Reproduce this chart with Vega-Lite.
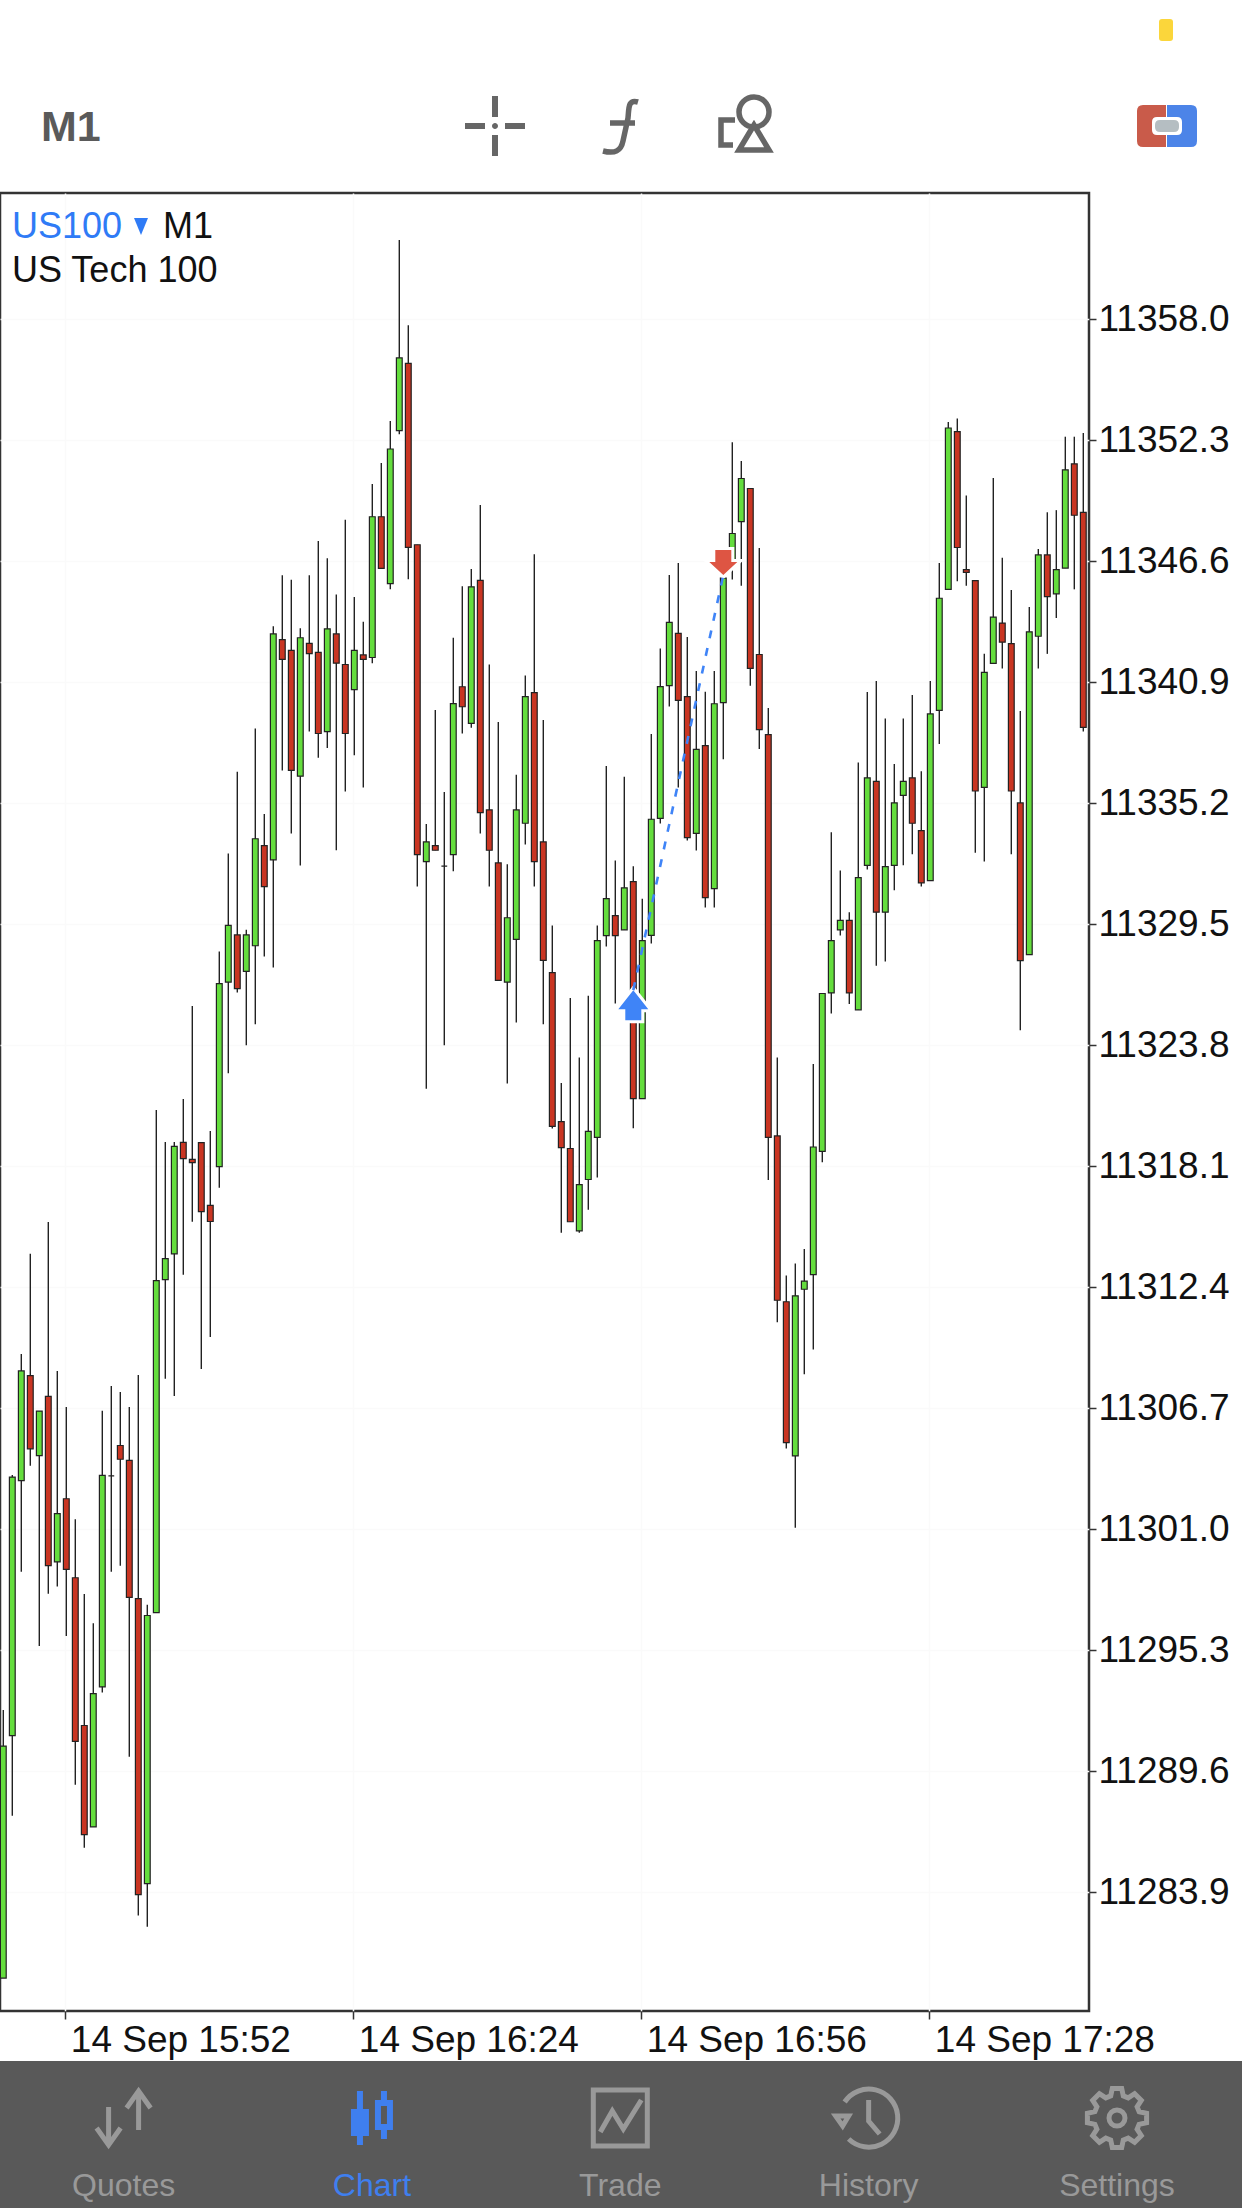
{
  "$schema": "https://vega.github.io/schema/vega-lite/v6.json",
  "padding": {"left": -2, "top": 0, "right": 0, "bottom": 0},
  "background": "#ffffff",
  "config": {"view": {"stroke": null}, "font": "Liberation Sans"},
  "spacing": 50,
  "bounds": "flush",
  "resolve": {"scale": {"shape": "independent", "fill": "independent", "color": "independent"}},
  "vconcat": [
    {
      "width": 1242,
      "height": 143,
      "resolve": {"scale": {"shape": "independent", "fill": "independent"}},
      "data": {"values": [
        {"slot": "M1", "icon": "label", "style": "text", "label": "M1"},
        {"slot": "crosshair", "icon": "crosshair", "style": "fill"},
        {"slot": "function", "icon": "function", "style": "stroke"},
        {"slot": "objects", "icon": "objects", "style": "stroke"},
        {"slot": "toggle", "icon": "toggle-left", "style": "fill"},
        {"slot": "toggle", "icon": "toggle-right", "style": "fill"},
        {"slot": "toggle", "icon": "toggle-knob", "style": "fill"},
        {"slot": "toggle", "icon": "toggle-dot", "style": "fill"},
        {"slot": "toggle", "icon": "battery", "style": "fill"}
      ]},
      "encoding": {
        "x": {"field": "slot", "type": "nominal", "axis": null, "scale": {"type": "point", "padding": 0, "range": [120, 1120], "domain": ["M1", "gap1", "gap2", "crosshair", "function", "objects", "gap3", "gap4", "toggle"]}},
        "y": {"datum": "toolbar", "axis": null, "scale": {"type": "point", "padding": 0, "range": [126, 143], "domain": ["toolbar", "edge"]}}
      },
      "layer": [
        {
          "transform": [{"filter": "datum.style === 'fill'"}],
          "mark": {"type": "point", "filled": true, "size": 4, "opacity": 1, "strokeWidth": 0},
          "encoding": {
            "shape": {"field": "icon", "type": "nominal", "legend": null, "scale": {
              "domain": ["crosshair", "toggle-left", "toggle-right", "toggle-knob", "toggle-dot", "battery"],
              "range": [
                "M-30,-3H-10V3H-30Z M10,-3H30V3H10Z M-3,-30H3V-9H-3Z M-3,9H3V30H-3Z M-3,0A3,3 0 1 0 3,0A3,3 0 1 0 -3,0Z",
                "M46,-21H23Q17,-21 17,-15V15Q17,21 23,21H46Z",
                "M47,-21H71Q77,-21 77,-15V15Q77,21 71,21H47Z",
                "M37,-9H57Q62,-9 62,-4V4Q62,9 57,9H37Q32,9 32,4V-4Q32,-9 37,-9Z",
                "M40,-6H54Q59,-6 59,-1V1Q59,6 54,6H40Q35,6 35,1V-1Q35,-6 40,-6Z",
                "M42,-107H50Q53,-107 53,-104V-88Q53,-85 50,-85H42Q39,-85 39,-88V-104Q39,-107 42,-107Z"
              ]}},
            "fill": {"field": "icon", "type": "nominal", "legend": null, "scale": {
              "domain": ["crosshair", "toggle-left", "toggle-right", "toggle-knob", "toggle-dot", "battery"],
              "range": ["#666666", "#C95B4A", "#4C84E8", "#ffffff", "#B5BEC2", "#FBD63B"]}}
          }
        },
        {
          "transform": [{"filter": "datum.style === 'stroke'"}],
          "mark": {"type": "point", "filled": false, "size": 4, "opacity": 1, "stroke": "#666666", "strokeWidth": 5.5},
          "encoding": {
            "shape": {"field": "icon", "type": "nominal", "legend": null, "scale": {
              "domain": ["function", "objects"],
              "range": [
                "M18,-24C8,-27 9,-18 8,-8L3,15C1,25 -5,28 -17,25 M-10,-3H15",
                "M-6,-14A15,15 0 1 1 24,-14A15,15 0 1 1 -6,-14Z M9,-1L-6,24H24Z M-10,-6H-24V19H-12"
              ]}}
          }
        },
        {
          "transform": [{"filter": "datum.style === 'text'"}],
          "mark": {"type": "text", "align": "left", "baseline": "alphabetic", "dx": -79, "dy": 15, "font": "Liberation Sans", "fontSize": 43, "fontWeight": "bold", "color": "#5a5a5a"},
          "encoding": {"text": {"field": "label"}}
        }
      ]
    },
    {
      "width": 1089,
      "height": 1818,
      "view": {"stroke": "#333333", "strokeWidth": 2.5, "fill": "#ffffff"},
      "resolve": {"scale": {"x": "independent", "y": "independent"}},
      "layer": [
        {
          "encoding": {
            "x": {"field": "t", "type": "temporal", "scale": {"type": "utc", "nice": false, "padding": 0, "domain": ["2022-09-14T15:44:38Z", "2022-09-14T17:45:38Z"]},
              "axis": {"title": null, "orient": "bottom", "values": ["2022-09-14T15:52:00Z", "2022-09-14T16:24:00Z", "2022-09-14T16:56:00Z", "2022-09-14T17:28:00Z"], "format": "%d %b %H:%M", "labelAlign": "left", "labelBaseline": "top", "labelOffset": 5, "labelPadding": 3, "labelLimit": 400, "labelFont": "Liberation Sans", "labelFontSize": 37, "labelColor": "#111111", "labelFlush": false, "labelOverlap": false, "tickColor": "#333333", "tickSize": 8, "tickWidth": 1.5, "tickOffset": -1, "domain": false, "grid": true, "gridColor": "#fafafa", "gridWidth": 1.5}}
          },
          "layer": [
            {
              "data": {"name": "candles"},
              "mark": {"type": "rule", "stroke": "#222222", "strokeWidth": 1.4, "clip": true},
              "encoding": {
                "y": {"field": "l", "type": "quantitative", "scale": {"domain": [11278.31, 11363.95], "nice": false, "zero": false},
                  "axis": {"title": null, "orient": "right", "values": [11283.9, 11289.6, 11295.3, 11301.0, 11306.7, 11312.4, 11318.1, 11323.8, 11329.5, 11335.2, 11340.9, 11346.6, 11352.3, 11358.0], "format": ".1f", "labelFont": "Liberation Sans", "labelFontSize": 37, "labelColor": "#111111", "labelPadding": 2, "labelFlush": false, "labelOverlap": false, "tickColor": "#333333", "tickSize": 7, "tickWidth": 1.5, "domain": false, "grid": true, "gridColor": "#fafafa", "gridWidth": 1.5}},
                "y2": {"field": "h"}
              }
            },
            {
              "data": {"name": "candles"},
              "mark": {"type": "bar", "size": 5.8, "stroke": "#222222", "strokeWidth": 1.2, "clip": true},
              "encoding": {
                "y": {"field": "o", "type": "quantitative"},
                "y2": {"field": "c"},
                "fill": {"condition": {"test": "datum.c >= datum.o", "value": "#64DD3D"}, "value": "#C93522"}
              }
            },
            {
              "data": {"name": "trades"},
              "mark": {"type": "point", "filled": true, "size": 4, "opacity": 1, "fill": "#ffffff", "stroke": "#ffffff", "strokeWidth": 6},
              "encoding": {
                "y": {"field": "price", "type": "quantitative"},
                "shape": {"field": "side", "type": "nominal", "legend": null, "scale": {"domain": ["buy", "sell"], "range": [
                  "M0,0L15,19H8V30H-8V19H-15Z",
                  "M-8,-25H8V-13H14L0,0L-14,-13H-8Z"
                ]}}
              }
            },
            {
              "data": {"name": "trades"},
              "mark": {"type": "line", "stroke": "#3F84F7", "strokeWidth": 2.6, "strokeDash": [8, 10]},
              "encoding": {"y": {"field": "price", "type": "quantitative"}}
            },
            {
              "data": {"name": "trades"},
              "mark": {"type": "point", "filled": true, "size": 4, "opacity": 1, "strokeWidth": 0},
              "encoding": {
                "y": {"field": "price", "type": "quantitative"},
                "shape": {"field": "side", "type": "nominal", "legend": null, "scale": {"domain": ["buy", "sell"], "range": [
                  "M0,0L15,19H8V30H-8V19H-15Z",
                  "M-8,-25H8V-13H14L0,0L-14,-13H-8Z"
                ]}},
                "fill": {"field": "side", "type": "nominal", "legend": null, "scale": {"domain": ["buy", "sell"], "range": ["#3F84F7", "#DE5543"]}}
              }
            }
          ]
        },
        {
          "encoding": {
            "x": {"field": "col", "type": "nominal", "axis": null, "scale": {"type": "point", "padding": 0, "range": [12, 163], "domain": ["a", "b"]}},
            "y": {"field": "line", "type": "nominal", "axis": null, "scale": {"type": "point", "padding": 0, "range": [45, 89], "domain": ["top", "bottom"]}}
          },
          "layer": [
            {
              "data": {"values": [
                {"label": "US100", "col": "a", "line": "top"},
                {"label": "M1", "col": "b", "line": "top"},
                {"label": "US Tech 100", "col": "a", "line": "bottom"}
              ]},
              "mark": {"type": "text", "align": "left", "baseline": "alphabetic", "font": "Liberation Sans", "fontSize": 36},
              "encoding": {
                "text": {"field": "label"},
                "color": {"field": "label", "type": "nominal", "legend": null, "scale": {"domain": ["US100", "M1", "US Tech 100"], "range": ["#2F7BF6", "#111111", "#111111"]}}
              }
            },
            {
              "data": {"values": [{"col": "b", "line": "top"}]},
              "mark": {"type": "point", "filled": true, "size": 4, "opacity": 1, "fill": "#2F7BF6", "strokeWidth": 0, "shape": "M-29,-20H-15L-22,-3Z"}
            }
          ]
        }
      ]
    },
    {
      "width": 1242,
      "height": 147,
      "view": {"fill": "#595959", "stroke": null},
      "data": {"values": [
        {"tab": "Quotes", "style": "stroke"},
        {"tab": "Chart", "style": "fill"},
        {"tab": "Trade", "style": "stroke"},
        {"tab": "History", "style": "stroke"},
        {"tab": "Settings", "style": "stroke"}
      ]},
      "encoding": {
        "x": {"field": "tab", "type": "nominal", "axis": null, "sort": null, "scale": {"type": "point", "padding": 0, "range": [123.6, 1117], "domain": ["Quotes", "Chart", "Trade", "History", "Settings"]}}
      },
      "layer": [
        {
          "transform": [{"filter": "datum.style === 'stroke'"}],
          "mark": {"type": "point", "filled": false, "size": 4, "opacity": 1, "stroke": "#999999", "strokeWidth": 5},
          "encoding": {
            "y": {"datum": "icon", "axis": null, "scale": {"type": "point", "padding": 0, "range": [57, 135], "domain": ["icon", "label"]}},
            "shape": {"field": "tab", "type": "nominal", "legend": null, "scale": {
              "domain": ["Quotes", "Trade", "History", "Settings"],
              "range": [
                "M15,12V-25 M3,-10L15,-27L27,-10 M-15,-11V25 M-27,10L-15,27L-3,10",
                "M-27,-28H27V28H-27Z M-20,14L-8,-7L3,11L21,-18",
                "M-24,-16A29,29 0 1 1 -20,21 M0,-18V3L11,16 M-33,-2H-20L-26,8Z",
                "M22.1,-6.3L29.6,-4.7L29.6,4.7L22.1,6.3L20.1,11.2L24.3,17.6L17.6,24.3L11.2,20.1L6.3,22.1L4.7,29.6L-4.7,29.6L-6.3,22.1L-11.2,20.1L-17.6,24.3L-24.3,17.6L-20.1,11.2L-22.1,6.3L-29.6,4.7L-29.6,-4.7L-22.1,-6.3L-20.1,-11.2L-24.3,-17.6L-17.6,-24.3L-11.2,-20.1L-6.3,-22.1L-4.7,-29.6L4.7,-29.6L6.3,-22.1L11.2,-20.1L17.6,-24.3L24.3,-17.6L20.1,-11.2Z M-8,0A8,8 0 1 0 8,0A8,8 0 1 0 -8,0Z"
              ]}}
          }
        },
        {
          "transform": [{"filter": "datum.style === 'fill'"}],
          "mark": {"type": "point", "filled": true, "size": 4, "opacity": 1, "fill": "#3F7FEF", "strokeWidth": 0, "shape": "M-15,-27H-9V-9H-3V18H-9V27H-15V18H-21V-9H-15Z M9,-27H15V-18H21V12H15V21H9V12H3V-18H9Z M9,-12V6H15V-12Z"},
          "encoding": {
            "y": {"datum": "icon", "axis": null, "scale": {"type": "point", "padding": 0, "range": [57, 135], "domain": ["icon", "label"]}}
          }
        },
        {
          "mark": {"type": "text", "baseline": "alphabetic", "align": "center", "font": "Liberation Sans", "fontSize": 32},
          "encoding": {
            "y": {"datum": "label", "axis": null, "scale": {"type": "point", "padding": 0, "range": [57, 135], "domain": ["icon", "label"]}},
            "text": {"field": "tab"},
            "color": {"condition": {"test": "datum.tab === 'Chart'", "value": "#3F7FEF"}, "value": "#999999"}
          }
        }
      ]
    }
  ],
  "datasets": {
    "trades": [
      {"t": "2022-09-14T16:55:00Z", "price": 11326.40, "side": "buy"},
      {"t": "2022-09-14T17:05:00Z", "price": 11345.95, "side": "sell"}
    ],
    "candles": [
      {"t":"2022-09-14T15:45:00Z","o":11279.86,"h":11292.49,"l":11279.86,"c":11290.79},
      {"t":"2022-09-14T15:46:00Z","o":11291.28,"h":11303.56,"l":11287.51,"c":11303.46},
      {"t":"2022-09-14T15:47:00Z","o":11303.29,"h":11309.26,"l":11299.00,"c":11308.46},
      {"t":"2022-09-14T15:48:00Z","o":11308.24,"h":11313.98,"l":11304.00,"c":11304.79},
      {"t":"2022-09-14T15:49:00Z","o":11304.47,"h":11306.57,"l":11295.50,"c":11306.57},
      {"t":"2022-09-14T15:50:00Z","o":11307.26,"h":11315.48,"l":11297.97,"c":11299.29},
      {"t":"2022-09-14T15:51:00Z","o":11299.47,"h":11308.46,"l":11298.31,"c":11301.74},
      {"t":"2022-09-14T15:52:00Z","o":11302.44,"h":11306.76,"l":11295.98,"c":11299.11},
      {"t":"2022-09-14T15:53:00Z","o":11298.72,"h":11301.48,"l":11288.97,"c":11291.01},
      {"t":"2022-09-14T15:54:00Z","o":11291.76,"h":11297.95,"l":11286.00,"c":11286.62},
      {"t":"2022-09-14T15:55:00Z","o":11286.98,"h":11296.58,"l":11286.98,"c":11293.26},
      {"t":"2022-09-14T15:56:00Z","o":11293.58,"h":11306.58,"l":11293.31,"c":11303.54},
      {"t":"2022-09-14T15:57:00Z","o":11303.52,"h":11307.75,"l":11299.00,"c":11303.52},
      {"t":"2022-09-14T15:58:00Z","o":11304.95,"h":11307.47,"l":11299.29,"c":11304.30},
      {"t":"2022-09-14T15:59:00Z","o":11304.25,"h":11306.76,"l":11290.29,"c":11297.79},
      {"t":"2022-09-14T16:00:00Z","o":11297.74,"h":11308.27,"l":11282.81,"c":11283.79},
      {"t":"2022-09-14T16:01:00Z","o":11284.31,"h":11297.45,"l":11282.28,"c":11296.94},
      {"t":"2022-09-14T16:02:00Z","o":11297.08,"h":11320.75,"l":11297.08,"c":11312.72},
      {"t":"2022-09-14T16:03:00Z","o":11312.76,"h":11319.24,"l":11308.09,"c":11313.75},
      {"t":"2022-09-14T16:04:00Z","o":11313.98,"h":11319.24,"l":11307.28,"c":11319.04},
      {"t":"2022-09-14T16:05:00Z","o":11319.23,"h":11321.27,"l":11312.99,"c":11318.46},
      {"t":"2022-09-14T16:06:00Z","o":11318.43,"h":11325.65,"l":11315.49,"c":11318.27},
      {"t":"2022-09-14T16:07:00Z","o":11319.22,"h":11319.22,"l":11308.55,"c":11315.97},
      {"t":"2022-09-14T16:08:00Z","o":11316.26,"h":11319.76,"l":11310.06,"c":11315.50},
      {"t":"2022-09-14T16:09:00Z","o":11318.09,"h":11328.22,"l":11317.09,"c":11326.71},
      {"t":"2022-09-14T16:10:00Z","o":11326.78,"h":11332.84,"l":11322.48,"c":11329.45},
      {"t":"2022-09-14T16:11:00Z","o":11329.00,"h":11336.69,"l":11326.29,"c":11326.47},
      {"t":"2022-09-14T16:12:00Z","o":11327.28,"h":11329.24,"l":11323.80,"c":11329.00},
      {"t":"2022-09-14T16:13:00Z","o":11328.49,"h":11338.73,"l":11324.79,"c":11333.53},
      {"t":"2022-09-14T16:14:00Z","o":11333.21,"h":11334.70,"l":11327.98,"c":11331.28},
      {"t":"2022-09-14T16:15:00Z","o":11332.54,"h":11343.54,"l":11327.47,"c":11343.18},
      {"t":"2022-09-14T16:16:00Z","o":11342.91,"h":11345.94,"l":11336.75,"c":11341.98},
      {"t":"2022-09-14T16:17:00Z","o":11342.40,"h":11345.73,"l":11333.78,"c":11336.75},
      {"t":"2022-09-14T16:18:00Z","o":11336.48,"h":11343.45,"l":11332.27,"c":11343.00},
      {"t":"2022-09-14T16:19:00Z","o":11342.73,"h":11345.94,"l":11338.58,"c":11342.25},
      {"t":"2022-09-14T16:20:00Z","o":11342.31,"h":11347.56,"l":11337.35,"c":11338.49},
      {"t":"2022-09-14T16:21:00Z","o":11338.58,"h":11346.75,"l":11337.80,"c":11343.42},
      {"t":"2022-09-14T16:22:00Z","o":11343.18,"h":11345.04,"l":11332.99,"c":11341.80},
      {"t":"2022-09-14T16:23:00Z","o":11341.74,"h":11348.56,"l":11335.76,"c":11338.49},
      {"t":"2022-09-14T16:24:00Z","o":11340.56,"h":11344.92,"l":11337.47,"c":11342.40},
      {"t":"2022-09-14T16:25:00Z","o":11342.19,"h":11343.75,"l":11335.94,"c":11341.98},
      {"t":"2022-09-14T16:26:00Z","o":11342.07,"h":11350.24,"l":11341.80,"c":11348.70},
      {"t":"2022-09-14T16:27:00Z","o":11348.70,"h":11351.23,"l":11346.27,"c":11346.27},
      {"t":"2022-09-14T16:28:00Z","o":11345.55,"h":11353.21,"l":11345.28,"c":11351.89},
      {"t":"2022-09-14T16:29:00Z","o":11352.76,"h":11361.74,"l":11352.58,"c":11356.18},
      {"t":"2022-09-14T16:30:00Z","o":11355.92,"h":11357.72,"l":11345.76,"c":11347.26},
      {"t":"2022-09-14T16:31:00Z","o":11347.38,"h":11347.38,"l":11331.28,"c":11332.78},
      {"t":"2022-09-14T16:32:00Z","o":11332.45,"h":11334.22,"l":11321.76,"c":11333.38},
      {"t":"2022-09-14T16:33:00Z","o":11333.21,"h":11339.60,"l":11332.99,"c":11332.99},
      {"t":"2022-09-14T16:34:00Z","o":11332.24,"h":11335.73,"l":11323.80,"c":11332.24},
      {"t":"2022-09-14T16:35:00Z","o":11332.78,"h":11343.00,"l":11332.00,"c":11339.90},
      {"t":"2022-09-14T16:36:00Z","o":11340.69,"h":11345.43,"l":11338.49,"c":11339.75},
      {"t":"2022-09-14T16:37:00Z","o":11338.97,"h":11346.24,"l":11338.76,"c":11345.40},
      {"t":"2022-09-14T16:38:00Z","o":11345.70,"h":11349.25,"l":11333.78,"c":11334.76},
      {"t":"2022-09-14T16:39:00Z","o":11334.89,"h":11341.74,"l":11331.28,"c":11332.99},
      {"t":"2022-09-14T16:40:00Z","o":11332.39,"h":11339.03,"l":11326.86,"c":11326.86},
      {"t":"2022-09-14T16:41:00Z","o":11326.78,"h":11332.33,"l":11322.00,"c":11329.81},
      {"t":"2022-09-14T16:42:00Z","o":11328.79,"h":11336.54,"l":11324.88,"c":11334.89},
      {"t":"2022-09-14T16:43:00Z","o":11334.26,"h":11341.22,"l":11333.26,"c":11340.23},
      {"t":"2022-09-14T16:44:00Z","o":11340.41,"h":11346.93,"l":11331.28,"c":11332.45},
      {"t":"2022-09-14T16:45:00Z","o":11333.38,"h":11339.12,"l":11324.79,"c":11327.80},
      {"t":"2022-09-14T16:46:00Z","o":11327.22,"h":11329.45,"l":11319.88,"c":11319.98},
      {"t":"2022-09-14T16:47:00Z","o":11320.21,"h":11322.03,"l":11314.97,"c":11318.98},
      {"t":"2022-09-14T16:48:00Z","o":11318.94,"h":11326.03,"l":11315.49,"c":11315.49},
      {"t":"2022-09-14T16:49:00Z","o":11315.06,"h":11323.23,"l":11314.97,"c":11317.24},
      {"t":"2022-09-14T16:50:00Z","o":11317.48,"h":11326.14,"l":11316.06,"c":11319.75},
      {"t":"2022-09-14T16:51:00Z","o":11319.46,"h":11329.45,"l":11317.57,"c":11328.73},
      {"t":"2022-09-14T16:52:00Z","o":11328.97,"h":11336.96,"l":11328.46,"c":11330.71},
      {"t":"2022-09-14T16:53:00Z","o":11329.91,"h":11332.51,"l":11325.77,"c":11328.97},
      {"t":"2022-09-14T16:54:00Z","o":11329.24,"h":11336.45,"l":11329.24,"c":11331.22},
      {"t":"2022-09-14T16:55:00Z","o":11331.51,"h":11332.23,"l":11319.89,"c":11321.29},
      {"t":"2022-09-14T16:56:00Z","o":11321.29,"h":11330.71,"l":11321.29,"c":11328.73},
      {"t":"2022-09-14T16:57:00Z","o":11328.98,"h":11338.47,"l":11328.60,"c":11334.45},
      {"t":"2022-09-14T16:58:00Z","o":11334.49,"h":11342.49,"l":11334.25,"c":11340.70},
      {"t":"2022-09-14T16:59:00Z","o":11340.74,"h":11345.96,"l":11339.76,"c":11343.72},
      {"t":"2022-09-14T17:00:00Z","o":11343.21,"h":11346.52,"l":11335.94,"c":11340.05},
      {"t":"2022-09-14T17:01:00Z","o":11340.23,"h":11343.03,"l":11333.45,"c":11333.58},
      {"t":"2022-09-14T17:02:00Z","o":11333.78,"h":11341.43,"l":11332.98,"c":11337.74},
      {"t":"2022-09-14T17:03:00Z","o":11337.92,"h":11340.45,"l":11330.29,"c":11330.76},
      {"t":"2022-09-14T17:04:00Z","o":11331.18,"h":11341.43,"l":11330.29,"c":11339.89},
      {"t":"2022-09-14T17:05:00Z","o":11339.94,"h":11345.81,"l":11337.27,"c":11345.81},
      {"t":"2022-09-14T17:06:00Z","o":11346.66,"h":11352.21,"l":11345.74,"c":11347.91},
      {"t":"2022-09-14T17:07:00Z","o":11348.47,"h":11351.32,"l":11345.45,"c":11350.50},
      {"t":"2022-09-14T17:08:00Z","o":11350.03,"h":11350.03,"l":11340.74,"c":11341.56},
      {"t":"2022-09-14T17:09:00Z","o":11342.21,"h":11347.23,"l":11337.76,"c":11338.67},
      {"t":"2022-09-14T17:10:00Z","o":11338.44,"h":11339.69,"l":11317.46,"c":11319.46},
      {"t":"2022-09-14T17:11:00Z","o":11319.53,"h":11323.23,"l":11310.75,"c":11311.79},
      {"t":"2022-09-14T17:12:00Z","o":11311.72,"h":11312.96,"l":11304.81,"c":11305.08},
      {"t":"2022-09-14T17:13:00Z","o":11304.46,"h":11313.52,"l":11301.07,"c":11312.00},
      {"t":"2022-09-14T17:14:00Z","o":11312.31,"h":11314.21,"l":11308.30,"c":11312.69},
      {"t":"2022-09-14T17:15:00Z","o":11313.00,"h":11322.92,"l":11309.47,"c":11319.01},
      {"t":"2022-09-14T17:16:00Z","o":11318.80,"h":11326.24,"l":11318.29,"c":11326.24},
      {"t":"2022-09-14T17:17:00Z","o":11326.27,"h":11333.84,"l":11325.30,"c":11328.73},
      {"t":"2022-09-14T17:18:00Z","o":11329.24,"h":11332.04,"l":11328.97,"c":11329.69},
      {"t":"2022-09-14T17:19:00Z","o":11329.69,"h":11330.07,"l":11325.75,"c":11326.27},
      {"t":"2022-09-14T17:20:00Z","o":11325.47,"h":11337.12,"l":11325.47,"c":11331.70},
      {"t":"2022-09-14T17:21:00Z","o":11332.28,"h":11340.44,"l":11332.08,"c":11336.40},
      {"t":"2022-09-14T17:22:00Z","o":11336.23,"h":11340.96,"l":11327.55,"c":11330.07},
      {"t":"2022-09-14T17:23:00Z","o":11330.07,"h":11339.20,"l":11327.75,"c":11332.22},
      {"t":"2022-09-14T17:24:00Z","o":11332.28,"h":11337.05,"l":11331.11,"c":11335.22},
      {"t":"2022-09-14T17:25:00Z","o":11335.57,"h":11339.20,"l":11332.28,"c":11336.23},
      {"t":"2022-09-14T17:26:00Z","o":11336.40,"h":11340.30,"l":11332.80,"c":11334.26},
      {"t":"2022-09-14T17:27:00Z","o":11333.91,"h":11336.71,"l":11331.28,"c":11331.45},
      {"t":"2022-09-14T17:28:00Z","o":11331.56,"h":11340.96,"l":11331.56,"c":11339.41},
      {"t":"2022-09-14T17:29:00Z","o":11339.58,"h":11346.52,"l":11337.99,"c":11344.86},
      {"t":"2022-09-14T17:30:00Z","o":11345.28,"h":11353.16,"l":11345.28,"c":11352.88},
      {"t":"2022-09-14T17:31:00Z","o":11352.71,"h":11353.33,"l":11345.66,"c":11347.25},
      {"t":"2022-09-14T17:32:00Z","o":11346.21,"h":11349.70,"l":11345.45,"c":11346.08},
      {"t":"2022-09-14T17:33:00Z","o":11345.69,"h":11345.69,"l":11332.87,"c":11335.78},
      {"t":"2022-09-14T17:34:00Z","o":11335.95,"h":11342.24,"l":11332.46,"c":11341.37},
      {"t":"2022-09-14T17:35:00Z","o":11341.79,"h":11350.53,"l":11341.79,"c":11343.97},
      {"t":"2022-09-14T17:36:00Z","o":11343.69,"h":11346.77,"l":11341.55,"c":11342.79},
      {"t":"2022-09-14T17:37:00Z","o":11342.72,"h":11345.25,"l":11332.80,"c":11335.78},
      {"t":"2022-09-14T17:38:00Z","o":11335.22,"h":11339.55,"l":11324.51,"c":11327.79},
      {"t":"2022-09-14T17:39:00Z","o":11328.07,"h":11344.45,"l":11328.07,"c":11343.28},
      {"t":"2022-09-14T17:40:00Z","o":11343.07,"h":11347.18,"l":11341.55,"c":11346.90},
      {"t":"2022-09-14T17:41:00Z","o":11346.90,"h":11348.91,"l":11342.24,"c":11344.94},
      {"t":"2022-09-14T17:42:00Z","o":11345.07,"h":11349.01,"l":11343.93,"c":11346.21},
      {"t":"2022-09-14T17:43:00Z","o":11346.28,"h":11352.47,"l":11346.28,"c":11350.91},
      {"t":"2022-09-14T17:44:00Z","o":11351.19,"h":11352.47,"l":11345.28,"c":11348.77},
      {"t":"2022-09-14T17:45:00Z","o":11348.91,"h":11352.64,"l":11338.58,"c":11338.78}
    ]
  }
}
